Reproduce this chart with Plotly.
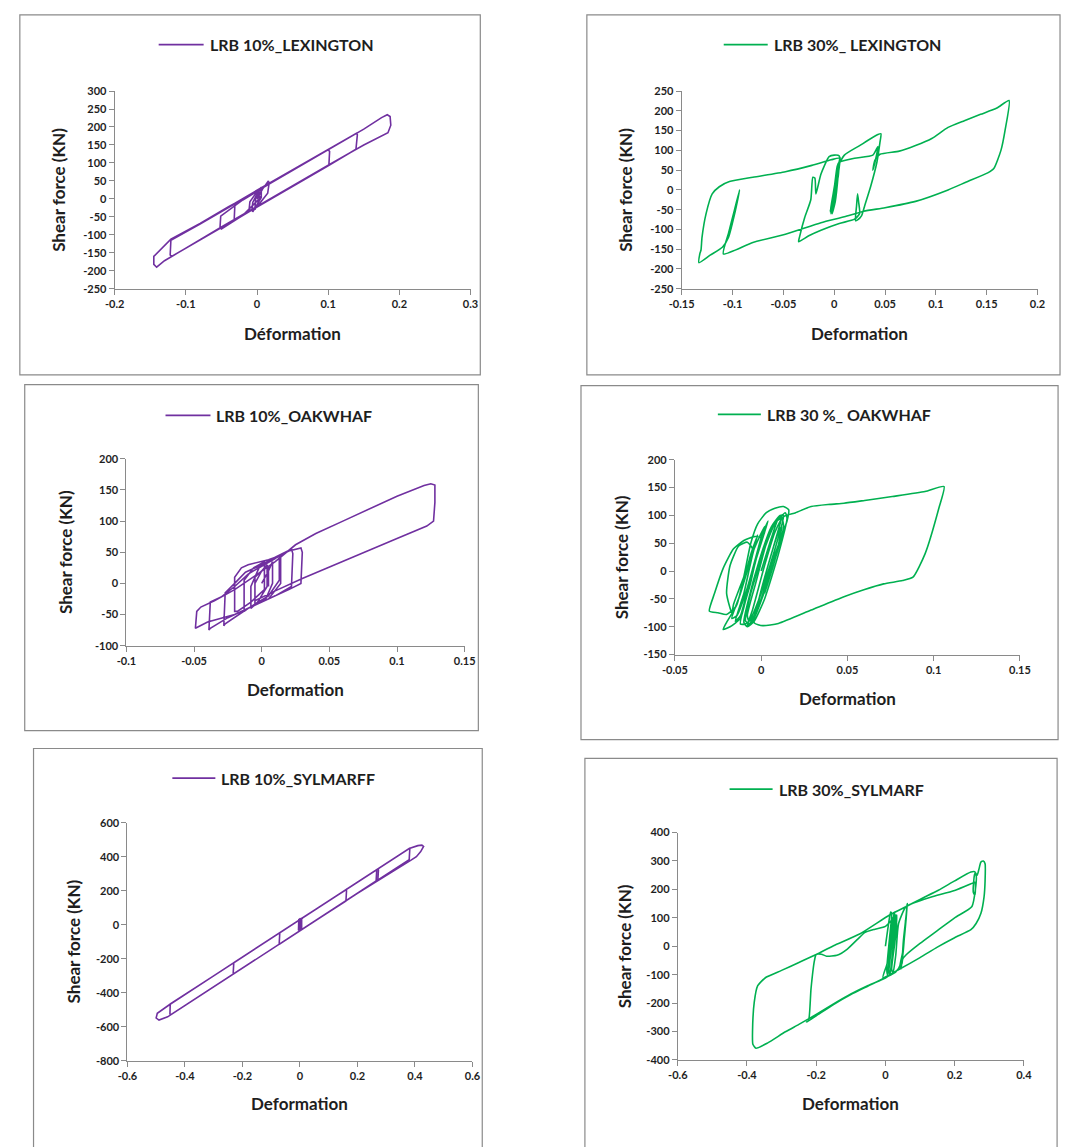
import plotly.graph_objects as go

W, H = 1072, 1147
PURPLE = "#7030A0"
GREEN = "#00B050"
FONT = "Lato"
TEXT = "#1e1e1e"
GREY = "#8a8a8a"

# ---------------- hysteresis paths: (deformation, shear force [kN]) ----------------
lex10 = [
    (0.000, 0), (0.008, 28), (0.016, 50), (0.017, 44), (0.015, 16), (0.000, -22),
    (-0.010, -34), (-0.011, -28), (-0.010, -8), (0.000, 20), (0.006, 32), (0.006, 4),
    (-0.006, -36), (-0.007, -30), (-0.006, -10), (0.003, 25), (0.003, 0),
    (-0.020, -46), (-0.050, -84), (-0.052, -80), (-0.051, -48),
    (-0.020, -3), (0.020, 45), (0.060, 92), (0.100, 137), (0.102, 132), (0.101, 94),
    (0.050, 36), (0.000, -22), (-0.030, -58), (-0.032, -55), (-0.031, -12),
    (0.000, 24), (0.050, 80), (0.100, 136), (0.140, 183), (0.141, 178), (0.139, 138),
    (0.100, 92), (0.050, 35), (0.000, -22), (-0.050, -80), (-0.100, -138), (-0.120, -160),
    (-0.122, -156), (-0.121, -115),
    (-0.080, -70), (-0.040, -24), (0.000, 22), (0.050, 79), (0.100, 137), (0.150, 194),
    (0.175, 226), (0.183, 234), (0.187, 229), (0.188, 205), (0.184, 184), (0.178, 178),
    (0.150, 150), (0.100, 94), (0.050, 37), (0.000, -20), (-0.050, -78), (-0.100, -137),
    (-0.130, -172), (-0.141, -190), (-0.145, -182), (-0.145, -160), (-0.140, -150), (-0.121, -112),
    (-0.080, -68), (-0.040, -22), (-0.010, 10), (0.005, 30), (0.006, 10), (0.000, -20),
    (-0.003, -30), (-0.002, 0), (0.002, 15),
]

lex30 = [
    (0.000, 0), (0.003, 45), (0.005, 75), (0.004, 35), (-0.002, -35), (-0.004, -55),
    (-0.001, -10), (0.003, 50), (0.006, 82), (0.004, 40), (-0.001, -30), (-0.003, -50),
    (0.000, 0), (0.003, 55),
    (0.010, 88), (0.025, 112), (0.043, 140), (0.046, 142), (0.045, 120), (0.042, 70),
    (0.036, 10), (0.030, -40), (0.027, -65),
    (0.023, -76), (0.021, -78), (0.022, -40), (0.023, -10), (0.024, -30), (0.025, -60), (0.020, -74),
    (0.005, -85), (-0.013, -102), (-0.025, -116), (-0.035, -131), (-0.034, -118),
    (-0.029, -70), (-0.023, -25), (-0.021, 32), (-0.019, 30), (-0.018, -10), (-0.013, 40),
    (-0.005, 84), (0.000, 88), (0.005, 86),
    (0.004, 40), (0.000, -20), (-0.003, -60), (-0.001, -20), (0.003, 60), (0.005, 70),
    (0.020, 80), (0.038, 88), (0.043, 110), (0.041, 80), (0.038, 50), (0.040, 75), (0.045, 90),
    (0.064, 98), (0.080, 112), (0.096, 130), (0.112, 158), (0.128, 175), (0.144, 191),
    (0.160, 207), (0.172, 226), (0.168, 150), (0.164, 100), (0.157, 54), (0.151, 43),
    (0.130, 20), (0.112, 0), (0.080, -29), (0.050, -45), (0.029, -54), (0.010, -68),
    (-0.013, -83), (-0.048, -112), (-0.080, -133), (-0.109, -162), (-0.104, -110),
    (-0.098, -50), (-0.093, 0), (-0.097, -50), (-0.104, -120), (-0.110, -145), (-0.122, -165),
    (-0.133, -184), (-0.132, -160), (-0.131, -152), (-0.130, -120), (-0.126, -60),
    (-0.120, -10), (-0.113, 8), (-0.103, 21), (-0.080, 32), (-0.048, 46), (-0.022, 62),
    (-0.003, 76), (0.005, 80),
    (0.004, 40), (0.001, -30), (-0.002, -60), (0.001, -10), (0.004, 50), (0.003, 20),
]

oak10 = [
    (0.000, 0), (0.005, 20), (0.008, 35), (0.008, 0), (0.003, -25), (-0.005, -35), (-0.005, 0),
    (0.000, 20), (0.004, 30), (0.004, -5), (-0.003, -30), (-0.008, -40), (-0.008, -5),
    (-0.002, 25), (0.010, 40), (0.013, 45), (0.013, 5), (0.005, -20), (-0.010, -40), (-0.013, -45),
    (-0.013, 5), (-0.006, 25), (0.002, 35), (0.002, -10), (-0.008, -30), (-0.018, -45), (-0.020, -45),
    (-0.020, 10), (-0.015, 25), (-0.010, 30), (0.005, 38), (0.014, 45), (0.014, 0), (0.005, -25),
    (-0.010, -40), (-0.027, -65), (-0.028, -68), (-0.027, -15), (-0.020, 0), (-0.012, 18), (0.000, 30),
    (0.010, 42), (0.022, 55), (0.023, 48), (0.022, -5), (0.010, -20), (-0.010, -40), (-0.025, -55),
    (-0.038, -72), (-0.039, -75), (-0.038, -30), (-0.030, -22), (-0.020, -5), (-0.010, 15), (0.008, 38),
    (0.020, 52), (0.029, 57), (0.030, 50), (0.029, 0), (0.020, -10), (0.000, -30), (-0.020, -50),
    (-0.040, -62), (-0.048, -70), (-0.049, -72), (-0.048, -45), (-0.045, -38), (-0.035, -28),
    (-0.020, -10), (-0.005, 12),
    (0.010, 35), (0.025, 62), (0.040, 80), (0.060, 100), (0.080, 120), (0.100, 140), (0.120, 157),
    (0.125, 160), (0.128, 158), (0.128, 130), (0.127, 100), (0.122, 92), (0.100, 72), (0.080, 54),
    (0.050, 26), (0.030, 8), (0.010, -12), (0.000, -22), (-0.005, -28), (-0.005, 10), (0.000, 20),
    (0.005, 28), (0.005, -5),
]

oak30 = [
    (0.000, 0), (0.006, 60), (0.010, 95), (0.012, 100), (0.011, 85), (0.004, 10), (-0.004, -80),
    (-0.007, -90), (-0.008, -80), (-0.003, -20), (0.005, 70), (0.009, 90), (0.012, 95), (0.013, 80),
    (0.006, 0), (-0.002, -70), (-0.006, -95), (-0.009, -90), (-0.006, -40), (0.002, 40), (0.008, 85),
    (0.014, 105), (0.015, 95), (0.010, 30), (0.002, -50), (-0.004, -90), (-0.008, -100), (-0.010, -92),
    (-0.008, -60), (-0.001, 20), (0.006, 80), (0.011, 100), (0.013, 100), (0.009, 50), (0.000, -40),
    (-0.006, -85), (-0.009, -95), (-0.012, -95), (-0.006, -20), (0.000, 60), (0.004, 90),
    (0.002, 70), (-0.006, -10), (-0.012, -80), (-0.015, -90), (-0.010, -40), (-0.004, 40),
    (0.002, 80), (0.000, 60), (-0.008, -30), (-0.014, -80), (-0.017, -85), (-0.012, -40),
    (-0.006, 30), (-0.002, 65), (-0.004, 45),
    (-0.010, -10), (-0.016, -60), (-0.017, -75), (-0.020, -40), (-0.018, 10),
    (-0.013, 45), (-0.008, 52), (-0.005, 40), (-0.010, -20), (-0.015, -65), (-0.020, -78),
    (-0.025, -75), (-0.030, -72), (-0.027, -40), (-0.022, 5), (-0.016, 40), (-0.010, 55),
    (-0.004, 62), (0.000, 60), (-0.003, 20), (-0.008, -40), (-0.012, -85), (-0.018, -100),
    (-0.022, -105), (-0.020, -92), (-0.014, -60), (-0.010, -10), (-0.006, 50), (-0.002, 85),
    (0.003, 105), (0.008, 113), (0.013, 116), (0.016, 110), (0.015, 90), (0.008, 30), (0.000, -50),
    (-0.005, -88), (-0.008, -98), (-0.005, -70), (0.002, 10), (0.008, 70), (0.013, 98),
    (0.020, 105), (0.029, 116), (0.040, 120), (0.048, 122), (0.060, 127), (0.076, 134), (0.095, 143),
    (0.106, 152), (0.103, 113), (0.095, 31), (0.088, -11), (0.082, -17), (0.071, -23), (0.060, -33),
    (0.048, -46), (0.029, -70), (0.010, -94), (0.001, -98), (-0.004, -93), (-0.002, -60), (0.004, 10),
    (0.010, 70), (0.012, 80), (0.008, 20), (0.002, -40),
]

syl10 = [
    (0.000, 0), (0.004, 35), (0.006, 40), (0.006, -20), (0.000, -30), (-0.002, -25), (-0.002, 25),
    (0.008, 38), (0.010, 42), (0.080, 118), (0.160, 206), (0.162, 200), (0.160, 140),
    (0.080, 53), (0.000, -35), (-0.070, -112), (-0.072, -108), (-0.070, -47),
    (0.000, 30), (0.100, 140), (0.200, 250), (0.265, 322), (0.267, 318), (0.265, 258),
    (0.200, 185), (0.100, 75), (0.000, -35), (-0.100, -145), (-0.230, -288), (-0.232, -284),
    (-0.230, -223), (-0.100, -80), (0.000, 30), (0.100, 140), (0.200, 250), (0.272, 329),
    (0.273, 322), (0.271, 264), (0.150, 130), (0.000, -35), (-0.150, -200), (-0.300, -365),
    (-0.450, -530), (-0.452, -525), (-0.451, -465), (-0.300, -300), (-0.150, -135), (0.000, 30),
    (0.150, 195), (0.300, 360), (0.380, 448), (0.382, 444), (0.380, 383), (0.250, 240),
    (0.100, 75), (-0.100, -145), (-0.300, -365), (-0.460, -541), (-0.490, -560), (-0.500, -548),
    (-0.496, -520), (-0.480, -500), (-0.454, -470), (-0.300, -300), (-0.100, -80), (0.100, 140),
    (0.300, 360), (0.380, 448), (0.410, 465), (0.424, 468), (0.430, 460), (0.420, 430),
    (0.405, 400), (0.385, 378), (0.200, 185), (0.000, -35), (-0.005, -30), (-0.004, 30),
    (0.002, 38), (0.003, -20),
]

syl30 = [
    (0.000, 0), (0.008, 70), (0.015, 120), (0.018, 115), (0.012, 30), (0.004, -80), (0.006, -100),
    (0.010, -60), (0.020, 60), (0.025, 120), (0.027, 100), (0.018, 0), (0.010, -90), (0.013, -100),
    (0.020, -30), (0.030, 90), (0.033, 110), (0.028, 20), (0.018, -80), (0.022, -95), (0.030, -30),
    (0.038, 80),
    (0.060, 140), (0.100, 160), (0.135, 174), (0.200, 196), (0.252, 222), (0.258, 225), (0.260, 200),
    (0.258, 180), (0.254, 190), (0.256, 240), (0.258, 255), (0.262, 250), (0.260, 200), (0.250, 140),
    (0.200, 100), (0.150, 55), (0.100, 10), (0.060, -30), (0.050, -45), (0.048, -60),
    (0.052, 20), (0.060, 110), (0.063, 150), (0.060, 100), (0.050, -20), (0.042, -70), (0.045, -80),
    (0.052, -10), (0.058, 90), (0.055, 40), (0.045, -60),
    (0.030, -90), (0.000, -110), (-0.050, -140), (-0.100, -170), (-0.150, -205), (-0.200, -245),
    (-0.228, -267), (-0.222, -262), (-0.215, -150), (-0.205, -50), (-0.200, -29), (-0.185, -28),
    (-0.170, -35), (-0.140, -32), (-0.110, -10), (-0.080, 25), (-0.060, 48), (-0.030, 60),
    (0.000, 70), (0.020, 95), (0.030, 110), (0.032, 60), (0.020, -40), (0.012, -100), (0.000, -112),
    (-0.050, -138), (-0.100, -168), (-0.150, -203), (-0.200, -240), (-0.250, -275), (-0.289, -301),
    (-0.340, -340), (-0.374, -359), (-0.383, -345), (-0.384, -300), (-0.379, -197), (-0.369, -139),
    (-0.346, -110), (-0.300, -85), (-0.250, -57), (-0.200, -29), (-0.150, 2), (-0.073, 44),
    (0.012, 110), (0.059, 139), (0.100, 165), (0.153, 197), (0.200, 230), (0.247, 261),
    (0.258, 262), (0.265, 250), (0.270, 270), (0.276, 296), (0.283, 300), (0.288, 290),
    (0.288, 230), (0.285, 174), (0.276, 116), (0.262, 80), (0.247, 58), (0.200, 30), (0.150, -3),
    (0.100, -40), (0.040, -81), (-0.007, -110), (0.005, -60), (0.015, 60), (0.020, 100),
    (0.018, 40), (0.008, -60),
]

# ---------------- axis ticks ----------------
lex10_xticks = [-0.2, -0.1, 0, 0.1, 0.2, 0.3]
lex10_yticks = [-250, -200, -150, -100, -50, 0, 50, 100, 150, 200, 250, 300]
lex30_xticks = [-0.15, -0.1, -0.05, 0, 0.05, 0.1, 0.15, 0.2]
lex30_yticks = [-250, -200, -150, -100, -50, 0, 50, 100, 150, 200, 250]
oak10_xticks = [-0.1, -0.05, 0, 0.05, 0.1, 0.15]
oak10_yticks = [-100, -50, 0, 50, 100, 150, 200]
oak30_xticks = [-0.05, 0, 0.05, 0.1, 0.15]
oak30_yticks = [-150, -100, -50, 0, 50, 100, 150, 200]
syl10_xticks = [-0.6, -0.4, -0.2, 0, 0.2, 0.4, 0.6]
syl10_yticks = [-800, -600, -400, -200, 0, 200, 400, 600]
syl30_xticks = [-0.6, -0.4, -0.2, 0, 0.2, 0.4]
syl30_yticks = [-400, -300, -200, -100, 0, 100, 200, 300, 400]

series_names = ["LRB 10%_LEXINGTON", "LRB 30%_ LEXINGTON", "LRB 10%_OAKWHAF",
                "LRB 30 %_ OAKWHAF", "LRB 10%_SYLMARFF", "LRB 30%_SYLMARF"]
x_titles = ["Déformation", "Deformation", "Deformation", "Deformation", "Deformation", "Deformation"]
y_title = "Shear force (KN)"

# ---------------- panel layout (pixel positions on the page) ----------------
panels = [
    dict(data=lex10, color=PURPLE, xt=lex10_xticks, yt=lex10_yticks, smooth=False,
         box=(7, 8, 478, 372), plot=(104, 85, 468, 285), leg=(149, 195, 38), ytx=47, xty=330),
    dict(data=lex30, color=GREEN, xt=lex30_xticks, yt=lex30_yticks, smooth=True,
         box=(587, 8, 1071, 372), plot=(684, 85, 1048, 285), leg=(727, 772, 38), ytx=627, xty=330),
    dict(data=oak10, color=PURPLE, xt=oak10_xticks, yt=oak10_yticks, smooth=False,
         box=(12, 382, 476, 732), plot=(116, 457, 462, 646), leg=(156, 202, 413), ytx=53, xty=690),
    dict(data=oak30, color=GREEN, xt=oak30_xticks, yt=oak30_yticks, smooth=True,
         box=(581, 383, 1069, 741), plot=(677, 458, 1030, 655), leg=(721, 765, 412), ytx=622, xty=699),
    dict(data=syl10, color=PURPLE, xt=syl10_xticks, yt=syl10_yticks, smooth=False,
         box=(21, 750, 480, 1160), plot=(117, 825, 470, 1066), leg=(163, 207, 780), ytx=62, xty=1109),
    dict(data=syl30, color=GREEN, xt=syl30_xticks, yt=syl30_yticks, smooth=True,
         box=(585, 760, 1068, 1160), plot=(680, 835, 1034, 1065), leg=(733, 777, 791), ytx=625, xty=1109),
]


def fx(p):
    return p / W


def fy(p):
    return 1 - p / H


fig = go.Figure()
shapes, annotations = [], []
layout_axes = {}
title_font = dict(family=FONT, size=17, color=TEXT, weight="bold")

for i, pnl in enumerate(panels, start=1):
    sfx = "" if i == 1 else str(i)
    xs = [p[0] for p in pnl["data"]]
    ys = [p[1] for p in pnl["data"]]
    line = dict(color=pnl["color"], width=1.6)
    if pnl["smooth"]:
        line.update(shape="spline", smoothing=0.55)
    fig.add_trace(go.Scatter(x=xs, y=ys, mode="lines", line=line, name=series_names[i - 1],
                             showlegend=False, xaxis="x" + sfx, yaxis="y" + sfx,
                             hoverinfo="skip"))

    x0, y0, x1, y1 = pnl["plot"]
    tickfont = dict(family=FONT, size=11, color=TEXT, weight="bold")
    common = dict(showline=True, linecolor=GREY, linewidth=1, ticks="outside", ticklen=5,
                  tickcolor=GREY, tickwidth=1, showgrid=False, zeroline=False,
                  tickfont=tickfont, tickmode="array", fixedrange=True)
    layout_axes["xaxis" + sfx] = dict(
        common, domain=[fx(x0), fx(x1)], anchor="y" + sfx,
        range=[pnl["xt"][0], pnl["xt"][-1]], tickvals=pnl["xt"],
        ticktext=[f"{v:g}" for v in pnl["xt"]])
    layout_axes["yaxis" + sfx] = dict(
        common, domain=[fy(y1), fy(y0)], anchor="x" + sfx,
        range=[pnl["yt"][0], pnl["yt"][-1]], tickvals=pnl["yt"],
        ticktext=[f"{v:g}" for v in pnl["yt"]])

    # frame around each chart
    bx0, by0, bx1, by1 = pnl["box"]
    shapes.append(dict(type="rect", xref="paper", yref="paper", x0=fx(bx0), x1=fx(bx1),
                       y0=fy(by1), y1=fy(by0), line=dict(color=GREY, width=1.2),
                       fillcolor="rgba(0,0,0,0)", layer="below"))

    # legend key: line sample + series name
    lx0, lx1, ly = pnl["leg"]
    shapes.append(dict(type="line", xref="paper", yref="paper", x0=fx(lx0), x1=fx(lx1),
                       y0=fy(ly), y1=fy(ly), line=dict(color=pnl["color"], width=1.8)))
    annotations.append(dict(xref="paper", yref="paper", x=fx(lx1 + 4), y=fy(ly),
                            xanchor="left", yanchor="middle", showarrow=False,
                            text=series_names[i - 1],
                            font=dict(family=FONT, size=16, color=TEXT, weight="bold")))

    # axis titles
    annotations.append(dict(xref="paper", yref="paper", x=fx((x0 + x1) / 2), y=fy(pnl["xty"]),
                            xanchor="center", yanchor="middle", showarrow=False,
                            text=x_titles[i - 1], font=title_font))
    annotations.append(dict(xref="paper", yref="paper", x=fx(pnl["ytx"]), y=fy((y0 + y1) / 2),
                            xanchor="center", yanchor="middle", showarrow=False, textangle=-90,
                            text=y_title, font=title_font))

fig.update_layout(
    width=W, height=H, margin=dict(l=0, r=0, t=0, b=0),
    paper_bgcolor="white", plot_bgcolor="white",
    showlegend=False, shapes=shapes, annotations=annotations,
    **layout_axes,
)

fig.write_html("out.html")
